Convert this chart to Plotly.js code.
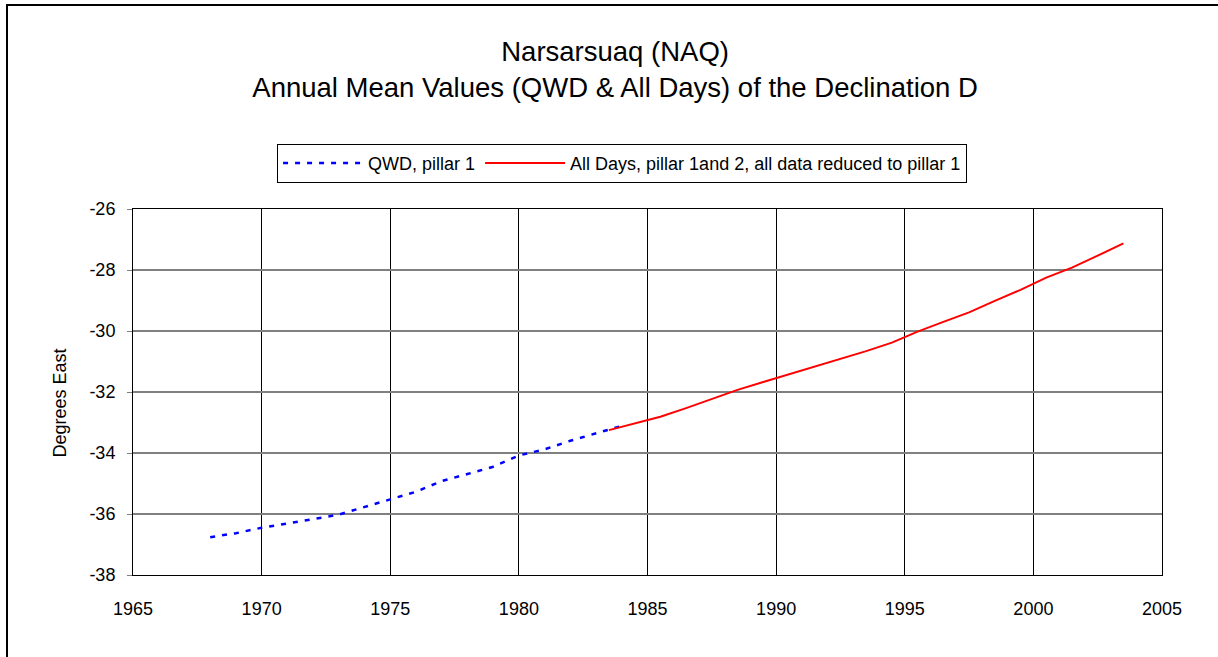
<!DOCTYPE html>
<html>
<head>
<meta charset="utf-8">
<script src="https://cdn.plot.ly/plotly-3.0.1.min.js"></script>
<style>
  body { margin: 0; background: #fff; }
  #plot { position: absolute; left: 0; top: 0; width: 1218px; height: 657px; }
  #frame {
    position: absolute; left: 6px; top: 4px; width: 1210px; height: 660px;
    border-left: 2px solid #000; border-top: 2px solid #000; border-right: 1px solid #ddd;
    pointer-events: none;
  }
</style>
</head>
<body>
<div id="plot"></div>
<div id="frame"></div>
<script>
const qwdYears = [1968, 1969, 1970, 1971, 1972, 1973, 1974, 1975, 1976, 1977, 1978, 1979, 1980, 1981, 1982, 1983, 1984]
const qwdDecl = [-36.76, -36.63, -36.45, -36.32, -36.17, -36.02, -35.76, -35.52, -35.27, -34.92, -34.69, -34.45, -34.08, -33.88, -33.60, -33.35, -33.11]

const allYears = [1983.5, 1984.5, 1985.5, 1986.5, 1987.5, 1988.5, 1989.5, 1990.5, 1991.5, 1992.5, 1993.5,
    1994.5, 1995.5, 1996.5, 1997.5, 1998.5, 1999.5, 2000.5, 2001.5, 2002.5, 2003.5]
const allDecl = [-33.25, -33.03, -32.81, -32.53, -32.24, -31.93, -31.67, -31.42, -31.18, -30.93, -30.66,
    -30.38, -30.02, -29.70, -29.39, -29.01, -28.65, -28.25, -27.92, -27.53, -27.13]

const xTicks = [1965, 1970, 1975, 1980, 1985, 1990, 1995, 2000, 2005]
const yTicks = [-38, -36, -34, -32, -30, -28, -26]

const font = 'Liberation Sans, Arial, sans-serif'

const trace1 = {
    x: qwdYears,
    y: qwdDecl,
    type: 'scatter',
    mode: 'lines',
    name: 'QWD, pillar 1',
    line: { color: '#0000ff', width: 2.5, dash: '5px,7px' }
}

const trace2 = {
    x: allYears,
    y: allDecl,
    type: 'scatter',
    mode: 'lines',
    name: 'All Days, pillar 1and 2, all data reduced to pillar 1',
    line: { color: '#ff0000', width: 2 }
}

const layout = {
    width: 1218,
    height: 657,
    margin: { l: 133, r: 56, t: 209, b: 82 },
    paper_bgcolor: '#fff',
    plot_bgcolor: '#fff',
    font: { family: font, size: 18, color: '#000' },
    title: {
        text: 'Narsarsuaq (NAQ)<br>Annual Mean Values (QWD &amp; All Days) of the Declination D',
        font: { family: font, size: 27.5, color: '#000' },
        xref: 'container', x: 0.505, xanchor: 'center',
        yref: 'container', y: 0.907, yanchor: 'top'
    },
    showlegend: true,
    legend: {
        orientation: 'h',
        x: 0.14, xanchor: 'left',
        y: 1.178, yanchor: 'top',
        bordercolor: '#000', borderwidth: 1,
        bgcolor: '#fff',
        itemwidth: 80,
        font: { family: font, size: 18, color: '#000' },
        tracegroupgap: 0
    },
    annotations: [{
        text: 'Degrees East',
        xref: 'paper', x: -0.0709, xanchor: 'center',
        yref: 'paper', y: 0.4686, yanchor: 'middle',
        textangle: -90,
        showarrow: false,
        font: { family: font, size: 18, color: '#000' }
    }],
    xaxis: {
        range: [1965, 2005],
        tickvals: xTicks,
        ticktext: xTicks.map(String),
        showgrid: true,
        gridcolor: '#000',
        gridwidth: 1,
        zeroline: false,
        showline: true,
        linecolor: '#000',
        linewidth: 1,
        mirror: true,
        ticks: 'outside',
        ticklen: 17,
        tickcolor: 'rgba(0,0,0,0)',
        tickfont: { family: font, size: 18 }
    },
    yaxis: {
        range: [-38, -26],
        tickvals: yTicks,
        ticktext: yTicks.map(String),
        showgrid: true,
        gridcolor: '#808080',
        gridwidth: 2,
        zeroline: false,
        showline: true,
        linecolor: '#000',
        linewidth: 1,
        mirror: true,
        ticks: 'outside',
        ticklen: 5,
        tickcolor: '#808080',
        tickwidth: 1,
        ticklabelstandoff: 8,
        tickfont: { family: font, size: 18 }
    }
}

Plotly.newPlot('plot', [trace1, trace2], layout, { displayModeBar: false, staticPlot: true })
</script>
</body>
</html>
